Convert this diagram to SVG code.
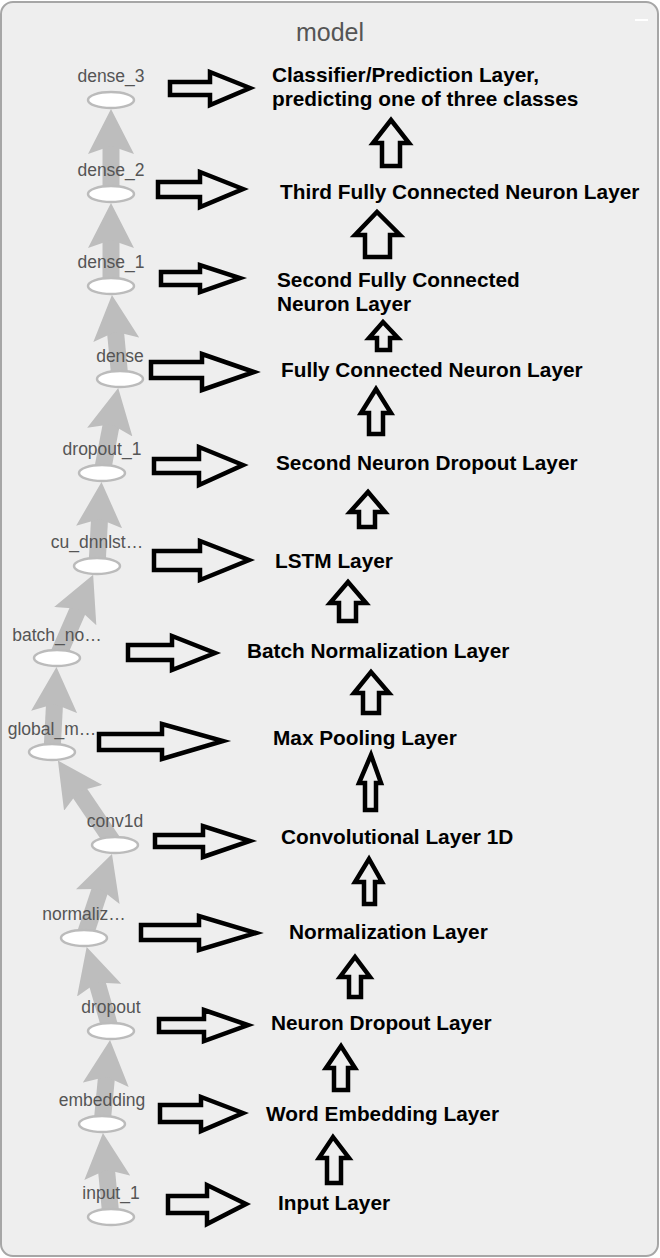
<svg xmlns="http://www.w3.org/2000/svg" width="660" height="1258" viewBox="0 0 660 1258">
<defs>
<style>
.frame{fill:#eeeeee;stroke:#a6a6a6;stroke-width:2}
.title{font-family:"Liberation Sans",Arial,sans-serif;font-size:25px;fill:#555555;text-anchor:middle}
.nlabel{font-family:"Liberation Sans",Arial,sans-serif;font-size:17.5px;fill:#555555;text-anchor:middle}
.node ellipse{fill:#ffffff;stroke:#bbbbbb;stroke-width:2.5}
.edge{fill:none;stroke:#bdbdbd;stroke-width:17;marker-end:url(#head)}
.ann{fill:none;stroke:#000000;stroke-width:4.5;stroke-linejoin:miter}
.atext{font-family:"Liberation Sans",Arial,sans-serif;font-size:20.8px;font-weight:bold;fill:#000000}
</style>
<marker id="head" viewBox="0 0 45 46" markerWidth="45" markerHeight="46" markerUnits="userSpaceOnUse" refX="15" refY="23" orient="auto">
<path d="M0,0 L45,23 L0,46 L8,23 z" fill="#bdbdbd"/>
</marker>
</defs>
<rect class="frame" x="1" y="2" width="657" height="1254" rx="12" ry="12"/>
<rect x="635" y="19" width="13" height="2" fill="#ffffff"/>
<text class="title" x="330" y="41">model</text>
<g id="connectors">
<path class="edge" d="M111,1217 L105.8,1162.8"/>
<path class="edge" d="M102,1124 L107.2,1069.8"/>
<path class="edge" d="M111,1031 L95,975.7"/>
<path class="edge" d="M84,938 L102.5,882.4"/>
<path class="edge" d="M115,845 L74.7,785.4"/>
<path class="edge" d="M52,752 L54.9,696.9"/>
<path class="edge" d="M57,658 L81.2,602.3"/>
<path class="edge" d="M97,566 L99.9,512"/>
<path class="edge" d="M102,473 L112.6,417.4"/>
<path class="edge" d="M120,379 L114.8,324.8"/>
<path class="edge" d="M111,286 L111,233"/>
<path class="edge" d="M111,194 L111,139"/>
</g>
<g id="n_input_1" class="node"><ellipse cx="111" cy="1217" rx="23" ry="8"/><text class="nlabel" x="111" y="1199">input_1</text></g>
<g id="n_embedding" class="node"><ellipse cx="102" cy="1124" rx="23" ry="8"/><text class="nlabel" x="102" y="1106">embedding</text></g>
<g id="n_dropout" class="node"><ellipse cx="111" cy="1031" rx="23" ry="8"/><text class="nlabel" x="111" y="1013">dropout</text></g>
<g id="n_normalization" class="node"><ellipse cx="84" cy="938" rx="23" ry="8"/><text class="nlabel" x="84" y="920">normaliz…</text></g>
<g id="n_conv1d" class="node"><ellipse cx="115" cy="845" rx="23" ry="8"/><text class="nlabel" x="115" y="827">conv1d</text></g>
<g id="n_global_max" class="node"><ellipse cx="52" cy="752" rx="23" ry="8"/><text class="nlabel" x="52" y="735">global_m…</text></g>
<g id="n_batch_norm" class="node"><ellipse cx="57" cy="658" rx="23" ry="8"/><text class="nlabel" x="57" y="641">batch_no…</text></g>
<g id="n_cu_dnnlstm" class="node"><ellipse cx="97" cy="566" rx="23" ry="8"/><text class="nlabel" x="97" y="548">cu_dnnlst…</text></g>
<g id="n_dropout_1" class="node"><ellipse cx="102" cy="473" rx="23" ry="8"/><text class="nlabel" x="102" y="455">dropout_1</text></g>
<g id="n_dense" class="node"><ellipse cx="120" cy="379" rx="23" ry="8"/><text class="nlabel" x="120" y="362">dense</text></g>
<g id="n_dense_1" class="node"><ellipse cx="111" cy="286" rx="23" ry="8"/><text class="nlabel" x="111" y="268">dense_1</text></g>
<g id="n_dense_2" class="node"><ellipse cx="111" cy="194" rx="23" ry="8"/><text class="nlabel" x="111" y="176">dense_2</text></g>
<g id="n_dense_3" class="node"><ellipse cx="111" cy="100" rx="23" ry="8"/><text class="nlabel" x="111" y="82">dense_3</text></g>
<g id="right_arrows">
<polygon class="ann" points="170,82 210,82 210,72 250,88 210,105 210,95 170,95"/>
<polygon class="ann" points="158,182 200,182 200,172 243,189 200,207 200,197 158,197"/>
<polygon class="ann" points="161,272 200,272 200,265 240,278 200,292 200,285 161,285"/>
<polygon class="ann" points="151,362 202,362 202,354 254,372 202,390 202,378 151,378"/>
<polygon class="ann" points="154,459 199,459 199,447 243,465 199,485 199,473 154,473"/>
<polygon class="ann" points="154,551 200,551 200,541 249,560 200,580 200,570 154,570"/>
<polygon class="ann" points="128,645 172,645 172,636 215,653 172,670 172,660 128,660"/>
<polygon class="ann" points="99,734 162,734 162,724 223,741 162,759 162,750 99,750"/>
<polygon class="ann" points="155,835 203,835 203,826 250,841 203,857 203,847 155,847"/>
<polygon class="ann" points="141,925 199,925 199,916 256,933 199,950 199,940 141,940"/>
<polygon class="ann" points="159,1019 204,1019 204,1010 248,1025 204,1041 204,1032 159,1032"/>
<polygon class="ann" points="160,1105 201,1105 201,1097 243,1113 201,1131 201,1122 160,1122"/>
<polygon class="ann" points="168,1196 207,1196 207,1185 246,1204 207,1224 207,1213 168,1213"/>
</g>
<g id="up_arrows">
<polygon class="ann" points="382,166 382,143 373,143 391,120 409,143 400,143 400,166"/>
<polygon class="ann" points="365,257 365,235 355,235 377,212 400,235 390,235 390,257"/>
<polygon class="ann" points="377,350 377,338 369,338 383,322 398,338 390,338 390,350"/>
<polygon class="ann" points="369,434 369,413 361,413 376,389 391,413 383,413 383,434"/>
<polygon class="ann" points="359,527 359,512 350,512 368,492 385,512 375,512 375,527"/>
<polygon class="ann" points="339,621 339,603 330,603 348,582 366,603 356,603 356,621"/>
<polygon class="ann" points="363,713 363,693 354,693 371,672 389,693 379,693 379,713"/>
<polygon class="ann" points="365,810 365,783 359,783 371,755 381,783 376,783 376,810"/>
<polygon class="ann" points="364,904 364,882 355,882 369,859 382,882 375,882 375,904"/>
<polygon class="ann" points="349,997 349,977 340,977 355,957 370,977 361,977 361,997"/>
<polygon class="ann" points="334,1090 334,1068 326,1068 341,1046 355,1068 348,1068 348,1090"/>
<polygon class="ann" points="327,1183 327,1158 319,1158 333,1137 349,1158 341,1158 341,1183"/>
</g>
<g id="layer_labels">
<text class="atext" x="272" y="82">Classifier/Prediction Layer,</text>
<text class="atext" x="272" y="106">predicting one of three classes</text>
<text class="atext" x="280" y="199">Third Fully Connected Neuron Layer</text>
<text class="atext" x="277" y="287">Second Fully Connected</text>
<text class="atext" x="277" y="311">Neuron Layer</text>
<text class="atext" x="281" y="377">Fully Connected Neuron Layer</text>
<text class="atext" x="276" y="470">Second Neuron Dropout Layer</text>
<text class="atext" x="275" y="568">LSTM Layer</text>
<text class="atext" x="247" y="658">Batch Normalization Layer</text>
<text class="atext" x="273" y="745">Max Pooling Layer</text>
<text class="atext" x="281" y="844">Convolutional Layer 1D</text>
<text class="atext" x="289" y="939">Normalization Layer</text>
<text class="atext" x="271" y="1030">Neuron Dropout Layer</text>
<text class="atext" x="266" y="1121">Word Embedding Layer</text>
<text class="atext" x="278" y="1210">Input Layer</text>
</g>
</svg>
